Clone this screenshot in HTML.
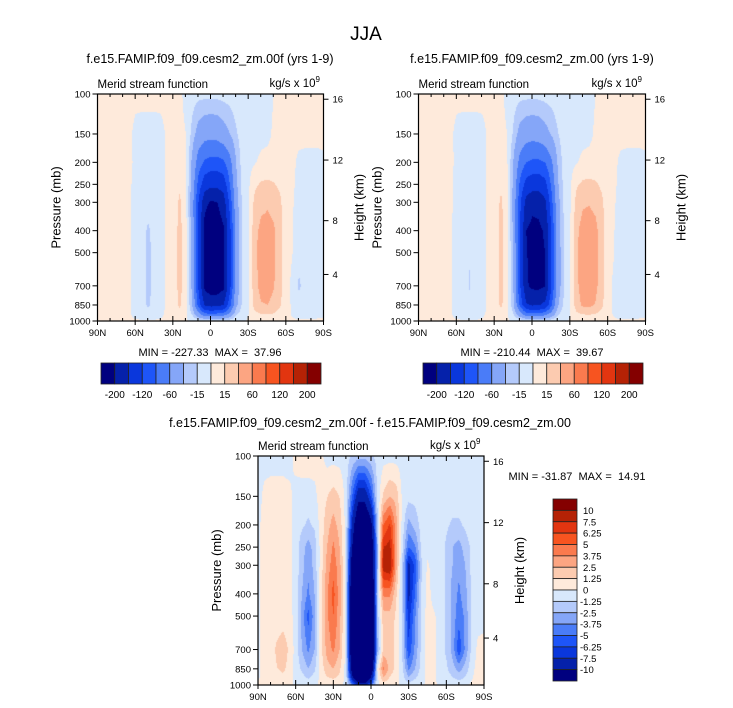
<!DOCTYPE html>
<html><head><meta charset="utf-8">
<style>
html,body{margin:0;padding:0;background:#fff;}
#root{position:relative;width:733px;height:708px;overflow:hidden;font-family:"Liberation Sans",Arial,sans-serif;}
canvas{position:absolute;}
svg{position:absolute;left:0;top:0;}
svg text{white-space:pre;}
</style></head>
<body>
<div id="root">
<canvas id="cA"></canvas>
<canvas id="cB"></canvas>
<canvas id="cC"></canvas>
<svg id="ov" width="733" height="708">
<text x="366" y="40" font-size="19" text-anchor="middle">JJA</text>
<text x="210" y="63" font-size="12.5" text-anchor="middle">f.e15.FAMIP.f09_f09.cesm2_zm.00f (yrs 1-9)</text>
<text x="532" y="63" font-size="12.5" text-anchor="middle">f.e15.FAMIP.f09_f09.cesm2_zm.00 (yrs 1-9)</text>
<text x="370" y="427" font-size="12.5" text-anchor="middle">f.e15.FAMIP.f09_f09.cesm2_zm.00f - f.e15.FAMIP.f09_f09.cesm2_zm.00</text>
<text x="210" y="356" font-size="11" text-anchor="middle" xml:space="preserve">MIN = -227.33  MAX =  37.96</text>
<text x="532" y="356" font-size="11" text-anchor="middle" xml:space="preserve">MIN = -210.44  MAX =  39.67</text>
<text x="577" y="480" font-size="11" text-anchor="middle" xml:space="preserve">MIN = -31.87  MAX =  14.91</text>
</svg>
</div>
<script>
// ---------- data ----------
const lats = [90,85,80,75,70,65,60,55,50,45,40,35,30,25,20,15,10,5,0,-5,-10,-15,-20,-25,-30,-35,-40,-45,-50,-55,-60,-65,-70,-75,-80,-85,-90];
const plevs = [100,150,200,250,300,400,500,700,850,925,1000];
const pTicks = [100,150,200,250,300,400,500,700,850,1000];
const latTickLabels = ["90N","60N","30N","0","30S","60S","90S"];
const kmTickLabels = ["16","12","8","4"];
const kmTickFrac = [0.023,0.291,0.558,0.795];
const levelsMain = [-200,-160,-120,-90,-60,-30,-15,0,15,30,60,90,120,160,200];
const levelsMainLabels = ["-200","-120","-60","-15","15","60","120","200"];
const levelsDiff = [-10,-7.5,-6.25,-5,-3.75,-2.5,-1.25,0,1.25,2.5,3.75,5,6.25,7.5,10];
const levelsDiffLabels = ["-10","-7.5","-6.25","-5","-3.75","-2.5","-1.25","0","1.25","2.5","3.75","5","6.25","7.5","10"];
const palette = ['#00007f','#0521aa','#0a37dc','#1e55f8','#4a7cf8','#85a6f8','#b4cafb','#d8e8fc','#feeadb','#fccbb0','#fca582','#fa7a4e','#f75420','#e23510','#b52205','#840000'];

const fieldA = [
[4,4,4,4,4,4,4,4,4,4,4,4,4,3,-4,-8,-10,-10,-10,-10,-9,-8,-6,-5,-5,-5,-5,-4,0,4,4,4,4,4,4,4,4],
[4,4,4,4,4,3,-4,-5,-5,-5,-4,2,4,4,0,-20,-40,-48,-50,-48,-40,-30,-17,-8,-5,-5,-4,-3,2,4,4,4,4,4,4,3,3],
[4,4,4,4,4,3,-3,-5,-5,-5,-4,2,4,4,1,-35,-75,-95,-100,-100,-95,-70,-30,-8,-4,-1,3,4,4,4,4,3,-3,-4,-4,-3,-2],
[3,3,3,3,3,2,-4,-6,-6,-6,-4,2,4,12,3,-40,-100,-140,-150,-150,-140,-90,-35,-10,-2,12,17,18,16,12,4,2,-4,-5,-5,-4,-3],
[3,3,3,3,3,2,-4,-6,-7,-6,-4,2,5,18,4,-45,-120,-190,-205,-200,-180,-110,-40,-12,-1,20,26,28,25,18,4,1,-5,-6,-6,-5,-3],
[3,3,3,3,3,2,-5,-8,-18,-8,-4,2,6,20,5,-40,-130,-215,-225,-222,-205,-130,-45,-14,0,26,34,35,32,21,5,0,-6,-7,-6,-5,-3],
[3,3,3,3,3,2,-5,-8,-20,-8,-4,2,6,20,5,-35,-130,-215,-227,-225,-210,-130,-45,-15,0,27,37,38,33,21,5,0,-8,-8,-6,-5,-3],
[3,3,3,3,3,2,-5,-8,-20,-8,-4,2,6,20,5,-35,-125,-210,-225,-225,-210,-130,-45,-15,0,25,35,36,31,20,4,-3,-18,-8,-6,-5,-3],
[3,3,3,3,3,2,-5,-8,-18,-8,-4,2,6,18,5,-30,-100,-165,-175,-170,-160,-100,-35,-12,0,22,29,30,26,17,4,-2,-8,-6,-5,-4,-2],
[2,2,2,2,2,1,-3,-5,-8,-5,-2,2,4,9,3,-18,-55,-90,-95,-92,-85,-55,-20,-7,0,12,16,17,15,10,2,-1,-4,-3,-3,-2,-1],
[2,2,2,2,2,1,1,1,1,1,1,2,2,2,1,-2,-5,-8,-8,-8,-7,-5,-2,-1,1,2,2,2,2,2,1,1,1,1,1,1,1]
];
const fieldB = [
[4,4,4,4,4,4,4,4,4,4,4,4,4,3,-4,-8,-10,-10,-10,-10,-9,-8,-6,-5,-5,-5,-5,-4,0,4,4,4,4,4,4,4,4],
[4,4,4,4,4,3,-4,-5,-5,-5,-4,2,4,4,0,-18,-38,-46,-48,-46,-38,-28,-16,-8,-5,-5,-4,-3,2,4,4,4,4,4,4,3,3],
[4,4,4,4,4,3,-3,-5,-5,-5,-4,2,4,4,1,-32,-70,-90,-95,-95,-90,-65,-28,-8,-4,-1,3,4,4,4,4,3,-3,-4,-4,-3,-2],
[3,3,3,3,3,2,-4,-6,-6,-6,-4,2,4,12,3,-36,-95,-132,-142,-142,-130,-85,-33,-10,-2,13,18,19,17,12,4,2,-4,-5,-5,-4,-3],
[3,3,3,3,3,2,-4,-6,-7,-6,-4,2,5,18,4,-40,-110,-175,-190,-188,-168,-100,-38,-12,-1,21,28,29,26,18,4,1,-5,-6,-6,-5,-3],
[3,3,3,3,3,2,-5,-8,-12,-8,-4,2,6,20,5,-36,-120,-200,-210,-208,-195,-120,-42,-14,0,27,36,37,34,22,5,0,-6,-7,-6,-5,-3],
[3,3,3,3,3,2,-5,-8,-14,-8,-4,2,6,20,5,-32,-120,-198,-210,-210,-200,-120,-42,-15,0,28,38,40,35,22,5,0,-8,-8,-6,-5,-3],
[3,3,3,3,3,2,-5,-8,-16,-8,-4,2,6,20,5,-32,-115,-195,-208,-210,-202,-120,-42,-15,0,27,37,39,34,21,4,-3,-12,-8,-6,-5,-3],
[3,3,3,3,3,2,-5,-8,-12,-8,-4,2,6,18,5,-28,-95,-155,-165,-162,-150,-95,-33,-12,0,24,33,34,29,18,4,-2,-8,-6,-5,-4,-2],
[2,2,2,2,2,1,-3,-5,-6,-5,-2,2,4,9,3,-16,-50,-85,-90,-88,-80,-52,-19,-7,0,13,17,18,16,10,2,-1,-4,-3,-3,-2,-1],
[2,2,2,2,2,1,1,1,1,1,1,2,2,2,1,-2,-5,-8,-8,-8,-7,-5,-2,-1,1,2,2,2,2,2,1,1,1,1,1,1,1]
];
const fieldC = [
[-0.5,-0.5,-0.5,-0.5,-0.5,-0.5,0.5,0.6,0.6,0.5,0.3,-0.5,-0.5,-0.5,-0.6,-1.5,-2,-2,-1.5,-0.8,-0.5,-0.5,-0.5,-0.5,-0.5,-0.5,-0.5,-0.5,-0.5,-0.5,-0.5,-0.5,-0.5,-0.5,-0.5,-0.5,-0.5],
[-0.5,0.3,0.5,0.5,0.5,0.3,-0.5,-0.5,-0.5,-0.3,0.5,1.2,1.8,1.2,-0.5,-5,-9,-9,-6,-1,1.5,2.5,2,-0.3,-0.8,-0.8,-0.5,-0.5,-0.5,-0.5,-0.5,-0.5,-0.5,-0.5,-0.5,-0.5,-0.5],
[-0.3,0.5,0.5,0.5,0.5,0.3,-0.5,-1,-1.5,-1,0.5,2,3,2,-0.5,-8,-14,-14,-11,-2,5,6.5,3,-0.5,-3,-2,-0.8,-0.5,-0.5,-0.5,-1,-1.5,-1.5,-1,-0.5,-0.5,-0.5],
[-0.3,0.5,0.5,0.5,0.5,0.3,-0.5,-2,-3,-2,0.5,2.5,4,2.5,-0.5,-10,-16,-16,-13,-3,7.5,8,3,-1,-5,-4,-1,-0.5,-0.8,-0.5,-1.5,-2.5,-3,-2,-1,-0.5,-0.5],
[-0.3,0.5,0.5,0.5,0.5,0.3,-0.5,-2,-3.5,-2,0.5,3,4.5,3,-0.5,-12,-18,-18,-14,-3,8.5,9,3,-1.5,-8,-6,-1.5,0.2,-0.5,-0.5,-1.5,-2.5,-3.5,-2.5,-1,-0.5,-0.5],
[-0.3,0.5,0.5,0.5,0.5,0.3,-0.5,-2.5,-4,-2.5,0.8,3.5,5.5,3,-0.5,-14,-20,-20,-16,-2,4,4,1.5,-1.5,-8,-5,-1.2,0.5,-0.5,-0.5,-1.5,-3,-4,-3,-1,-0.5,-0.5],
[-0.3,0.5,0.5,0.5,0.6,0.5,-0.5,-3,-5.5,-3,0.8,3.5,5,3,-0.5,-14,-22,-22,-18,-2,2,2,1,-1.5,-7,-4,-1,0.5,0.2,-0.5,-1.5,-3,-4.5,-3.5,-1,-0.5,-0.5],
[-0.3,0.5,0.6,1.5,2,1,-0.5,-2.5,-4,-2.5,0.8,3,4,2.5,-0.5,-14,-22,-22,-18,-3,1.8,1.8,1,-1.5,-6,-3.5,-1,0.5,0.2,-0.5,-1.5,-3,-6,-3.5,-1,0.3,0.5],
[-0.3,0.5,0.6,1.2,1.5,0.8,-0.5,-1.5,-2.5,-1.5,0.5,2,2.5,1.5,-0.5,-12,-20,-20,-14,0,4,2,0.8,-1,-4,-2.5,-0.8,0.5,0.2,-0.5,-1,-2,-3,-2,-0.5,0.5,0.5],
[-0.2,0.4,0.5,0.8,1,0.5,-0.4,-0.8,-1.5,-0.8,0.4,1.2,1.5,1,-0.4,-9,-16,-16,-10,-0.5,2.5,1.2,0.6,-0.7,-2.5,-1.5,-0.6,0.4,0.2,-0.4,-0.7,-1.2,-1.8,-1.2,-0.3,0.8,0.5],
[0.3,0.3,0.3,0.3,0.3,0.3,-0.3,-0.3,-0.3,-0.3,0.3,0.3,0.3,0.3,-0.3,-4,-8,-8,-5,-0.3,0.6,0.4,0.3,-0.3,-0.6,-0.4,-0.3,0.3,0.3,-0.3,-0.3,-0.4,-0.4,-0.4,0.3,0.3,0.3]
];

// ---------- geometry ----------
const panels = [
  {id:'cA', key:'control', x:97.5, y:94, w:226, h:227, data:fieldA, levels:levelsMain},
  {id:'cB', key:'test', x:418.5, y:94, w:227, h:227, data:fieldB, levels:levelsMain},
  {id:'cC', key:'difference', x:258, y:456, w:226, h:229, data:fieldC, levels:levelsDiff}
];
const NS = 'http://www.w3.org/2000/svg';
const ov = document.getElementById('ov');

function hexToRgb(h){return [parseInt(h.slice(1,3),16),parseInt(h.slice(3,5),16),parseInt(h.slice(5,7),16)];}
const palRGB = palette.map(hexToRgb);
function binOf(v, lv){let k=0; while(k<lv.length && v>=lv[k]) k++; return k;}
function pToY(P, p){return P.y + Math.log10(p/100)*P.h;}

function sample(P, lat, p){
  let fi = (90-lat)/5; if(fi<0)fi=0; if(fi>lats.length-1)fi=lats.length-1;
  let i0=Math.min(Math.floor(fi),lats.length-2), ti=fi-i0;
  const lp=Math.log10(p);
  let k=0; while(k<plevs.length-2 && p>plevs[k+1]) k++;
  let tk=(lp-Math.log10(plevs[k]))/(Math.log10(plevs[k+1])-Math.log10(plevs[k]));
  tk=Math.max(0,Math.min(1,tk));
  const d=P.data;
  const a=d[k][i0]*(1-ti)+d[k][i0+1]*ti;
  const b=d[k+1][i0]*(1-ti)+d[k+1][i0+1]*ti;
  return a*(1-tk)+b*tk;
}

function drawField(P){
  const c=document.getElementById(P.id);
  const W=Math.round(P.w), H=Math.round(P.h);
  c.width=W; c.height=H;
  c.style.left=P.x+'px'; c.style.top=P.y+'px';
  c.style.width=W+'px'; c.style.height=H+'px';
  const ctx=c.getContext('2d');
  const img=ctx.createImageData(W,H);
  for(let y=0;y<H;y++){
    const p=100*Math.pow(10,(y+0.5)/H);
    for(let x=0;x<W;x++){
      const lat=90-180*(x+0.5)/W;
      const v=sample(P,lat,p);
      const col=palRGB[binOf(v,P.levels)];
      const o=(y*W+x)*4;
      img.data[o]=col[0];img.data[o+1]=col[1];img.data[o+2]=col[2];img.data[o+3]=255;
    }
  }
  ctx.putImageData(img,0,0);
}

function mk(tag, attrs, text){
  const e=document.createElementNS(NS,tag);
  for(const k in attrs) e.setAttribute(k,attrs[k]);
  if(text!==undefined) e.textContent=text;
  ov.appendChild(e);
  return e;
}

function drawAxes(P){
  const x1=P.x+P.w, y1=P.y+P.h;
  const box=mk('rect',{x:P.x,y:P.y,width:P.w,height:P.h,fill:'none',stroke:'#000','stroke-width':1.2});
  
  
  pTicks.forEach(function(p){
    const y=pToY(P,p);
    const t=mk('line',{x1:P.x-5,y1:y,x2:P.x,y2:y,stroke:'#000','stroke-width':1});
    
    
    const l=mk('text',{x:P.x-7,y:y+3.5,'font-size':9.5,'text-anchor':'end'},String(p));
    
    
  });
  for(let d=0; d<=180; d+=10){
    const x=P.x+d/180*P.w;
    const major=(d%30===0);
    const len=major?5:3;
    const tb=mk('line',{x1:x,y1:y1,x2:x,y2:y1-len,stroke:'#000','stroke-width':1});
    
    
    const tt=mk('line',{x1:x,y1:P.y,x2:x,y2:P.y+len,stroke:'#000','stroke-width':1});
    
    
    if(major){
      const tb2=mk('line',{x1:x,y1:y1,x2:x,y2:y1+4,stroke:'#000','stroke-width':1});
      
      
    }
  }
  latTickLabels.forEach(function(s,i){
    const x=P.x+i*30/180*P.w;
    const l=mk('text',{x:x,y:y1+15,'font-size':9.5,'text-anchor':'middle'},s);
    
    
  });
  kmTickLabels.forEach(function(s,i){
    const y=P.y+kmTickFrac[i]*P.h;
    const t=mk('line',{x1:x1,y1:y,x2:x1+5,y2:y,stroke:'#000','stroke-width':1});
    
    
    const l=mk('text',{x:x1+9,y:y+3.5,'font-size':9.5},s);
    
    
  });
  const yl=mk('text',{x:0,y:0,'font-size':13,'text-anchor':'middle',transform:'translate('+(P.x-37)+','+(P.y+P.h/2)+') rotate(-90)'},'Pressure (mb)');
  
  
  const hl=mk('text',{x:0,y:0,'font-size':13,'text-anchor':'middle',transform:'translate('+(x1+40)+','+(P.y+P.h/2)+') rotate(-90)'},'Height (km)');
  
  
  const st=mk('text',{x:P.x,y:P.y-6,'font-size':11.5},'Merid stream function');
  
  
  const un=mk('text',{x:x1-8,y:P.y-7,'font-size':11.5,'text-anchor':'end'},'kg/s x 10');
  
  
  const sup=mk('text',{x:x1-8,y:P.y-12,'font-size':8},'9');
  
  
}

function drawHBar(x0,y0,w,h,key){
  const bw=w/palette.length;
  palette.forEach(function(c,i){
    const r=mk('rect',{x:x0+i*bw,y:y0,width:bw,height:h,fill:c,stroke:'#222','stroke-width':0.8});
    
    
  });
  levelsMainLabels.forEach(function(s,i){
    const x=x0+(2*i+1)*bw;
    const l=mk('text',{x:x,y:y0+h+14,'font-size':10,'text-anchor':'middle'},s);
    
    
  });
}
function drawVBar(x0,y0,w,h){
  const bh=h/palette.length;
  for(let i=0;i<palette.length;i++){
    const c=palette[palette.length-1-i];
    const r=mk('rect',{x:x0,y:y0+i*bh,width:w,height:bh,fill:c,stroke:'#222','stroke-width':0.8});
    
    
  }
  for(let i=0;i<levelsDiffLabels.length;i++){
    const s=levelsDiffLabels[levelsDiffLabels.length-1-i];
    const y=y0+(i+1)*bh;
    const l=mk('text',{x:x0+w+3+(s.charAt(0)==='-'?0:3),y:y+3.5,'font-size':9.5},s);
    
    
  }
}

panels.forEach(function(P){drawField(P); drawAxes(P);});
drawHBar(101,363,220,21,'control');
drawHBar(423,363,220,21,'test');
drawVBar(553,499,24,182);
</script>
</body></html>
